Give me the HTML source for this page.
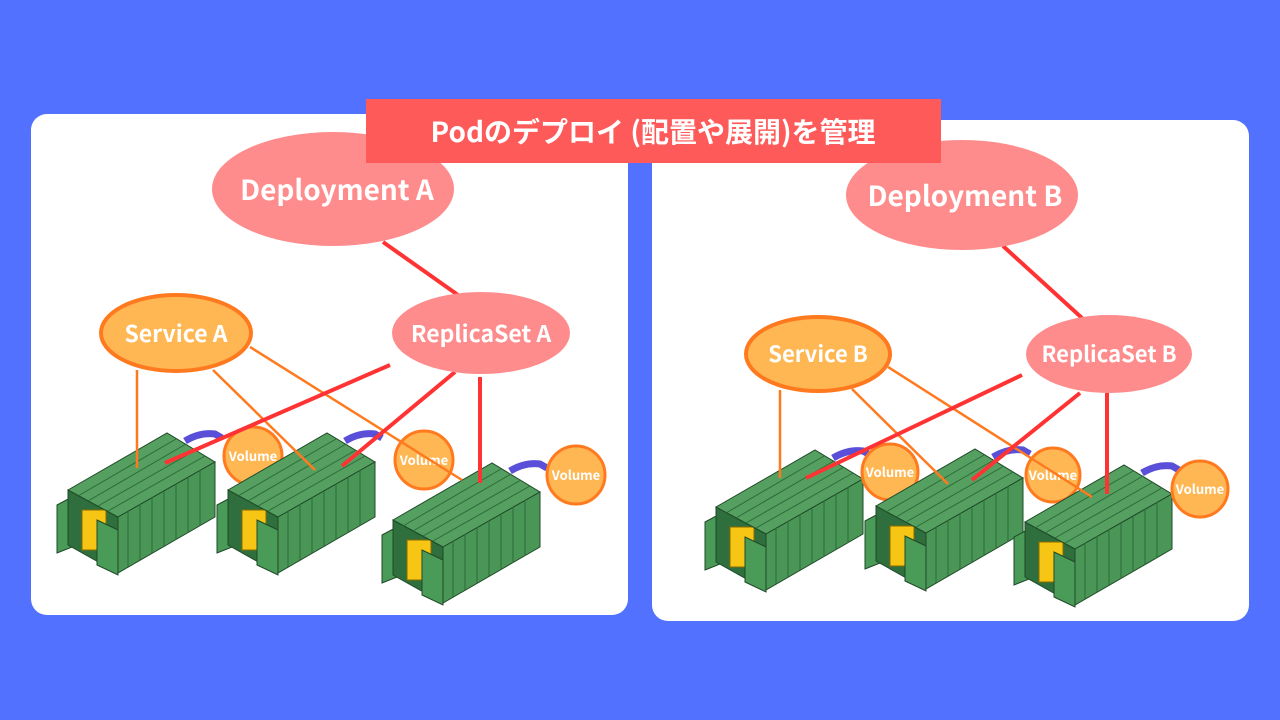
<!DOCTYPE html>
<html><head><meta charset="utf-8"><style>
body{margin:0;width:1280px;height:720px;background:#5271ff;overflow:hidden;font-family:"Noto Sans CJK JP",sans-serif}
svg{position:absolute;left:0;top:0}
</style></head><body>
<svg width="1280" height="720" viewBox="0 0 1280 720">
<defs>
<g id="c">
 <path d="M185,441 Q200,432 215,434 L222,438" stroke="#5a4fd8" stroke-width="7" fill="none"/>
 <polygon points="57,505 72,497 72,547 57,553" fill="#4a9a58" stroke="#1f4a28" stroke-width="1"/>
 <polygon points="68,490 118,517 118,573 68,545" fill="#2f6e3d" stroke="#1f4a28"/>
 <rect x="82" y="510" width="24" height="40" fill="#f7c514" stroke="#8a6a00" stroke-width="1"/>
 <polygon points="68,490 167,433 215,462 118,517" fill="#55a061" stroke="#1f4a28"/>
 <g stroke="#2c6a38" stroke-width="1">
  <line x1="78" y1="496" x2="176" y2="439"/><line x1="88" y1="501" x2="186" y2="444"/><line x1="98" y1="506" x2="196" y2="450"/><line x1="108" y1="511" x2="205" y2="456"/>
 </g>
 <polygon points="118,517 215,462 215,517 118,573" fill="#4a9657" stroke="#1f4a28"/>
 <g stroke="#2c6a38" stroke-width="1">
  <line x1="128" y1="511" x2="128" y2="567"/><line x1="140" y1="504" x2="140" y2="560"/><line x1="152" y1="497" x2="152" y2="553"/><line x1="164" y1="491" x2="164" y2="546"/><line x1="176" y1="484" x2="176" y2="540"/><line x1="188" y1="477" x2="188" y2="533"/><line x1="200" y1="470" x2="200" y2="526"/>
 </g>
 <polygon points="97,520 118,530 118,575 97,565" fill="#4a9a58" stroke="#1f4a28"/>
</g>
</defs>
<rect x="31" y="114" width="597" height="501" rx="16" fill="#fff"/>
<rect x="652" y="120" width="597" height="501" rx="16" fill="#fff"/>

<use href="#c"/>
<circle cx="253" cy="456" r="29" fill="#ffb754" stroke="#ff7a1f" stroke-width="3"/>
<use href="#c" x="160"/>
<circle cx="424" cy="460" r="29" fill="#ffb754" stroke="#ff7a1f" stroke-width="3"/>
<use href="#c" x="325" y="30"/>
<circle cx="576" cy="475" r="29" fill="#ffb754" stroke="#ff7a1f" stroke-width="3"/>
<use href="#c" x="648" y="17"/>
<circle cx="890" cy="472" r="28" fill="#ffb754" stroke="#ff7a1f" stroke-width="3"/>
<use href="#c" x="808" y="16"/>
<circle cx="1053" cy="475" r="27" fill="#ffb754" stroke="#ff7a1f" stroke-width="3"/>
<use href="#c" x="957" y="32"/>
<circle cx="1200" cy="489" r="28" fill="#ffb754" stroke="#ff7a1f" stroke-width="3"/>

<g fill="#fff" font-weight="bold" text-anchor="middle">
<g font-size="13"><text x="253" y="461">Volume</text><text x="424" y="465">Volume</text><text x="576" y="480">Volume</text>
<text x="890" y="477">Volume</text><text x="1053" y="480">Volume</text><text x="1200" y="494">Volume</text></g>
</g>

<g stroke="#ff7a1f" stroke-width="2.5">
<line x1="137" y1="370" x2="137" y2="468"/><line x1="213" y1="370" x2="315" y2="470"/><line x1="250" y1="347" x2="462" y2="480"/>
<line x1="780" y1="390" x2="780" y2="478"/><line x1="852" y1="389" x2="948" y2="484"/><line x1="888" y1="367" x2="1092" y2="497"/>
</g>
<g stroke="#ff3333" stroke-width="4">
<line x1="383" y1="242" x2="458" y2="295"/><line x1="390" y1="365" x2="165" y2="463"/><line x1="455" y1="372" x2="342" y2="466"/><line x1="480" y1="377" x2="480" y2="483"/>
<line x1="1003" y1="246" x2="1082" y2="318"/><line x1="1022" y1="375" x2="806" y2="478"/><line x1="1080" y1="393" x2="972" y2="480"/><line x1="1107" y1="393" x2="1107" y2="494"/>
</g>

<ellipse cx="333" cy="189" rx="121" ry="57" fill="#ff8c8c"/>
<ellipse cx="481" cy="333" rx="89" ry="41" fill="#ff8c8c"/>
<ellipse cx="176" cy="333" rx="75" ry="38" fill="#ffb754" stroke="#ff7a1f" stroke-width="4"/>
<ellipse cx="962" cy="195" rx="116" ry="55" fill="#ff8c8c"/>
<ellipse cx="1109" cy="354" rx="83" ry="39" fill="#ff8c8c"/>
<ellipse cx="818" cy="354" rx="72" ry="37" fill="#ffb754" stroke="#ff7a1f" stroke-width="4"/>

<g fill="#fff" font-weight="bold" text-anchor="middle">
<text x="337" y="200" font-size="28">Deployment A</text>
<text x="481" y="342" font-size="23">ReplicaSet A</text>
<text x="176" y="342" font-size="23">Service A</text>
<text x="965" y="206" font-size="28">Deployment B</text>
<text x="1109" y="362" font-size="22">ReplicaSet B</text>
<text x="818" y="362" font-size="22">Service B</text>
</g>
<rect x="366" y="99" width="575" height="64" fill="#ff5a5a"/>
<text x="653" y="142" fill="#fff" font-size="28" font-weight="bold" text-anchor="middle">Podのデプロイ (配置や展開)を管理</text>
</svg>
</body></html>
